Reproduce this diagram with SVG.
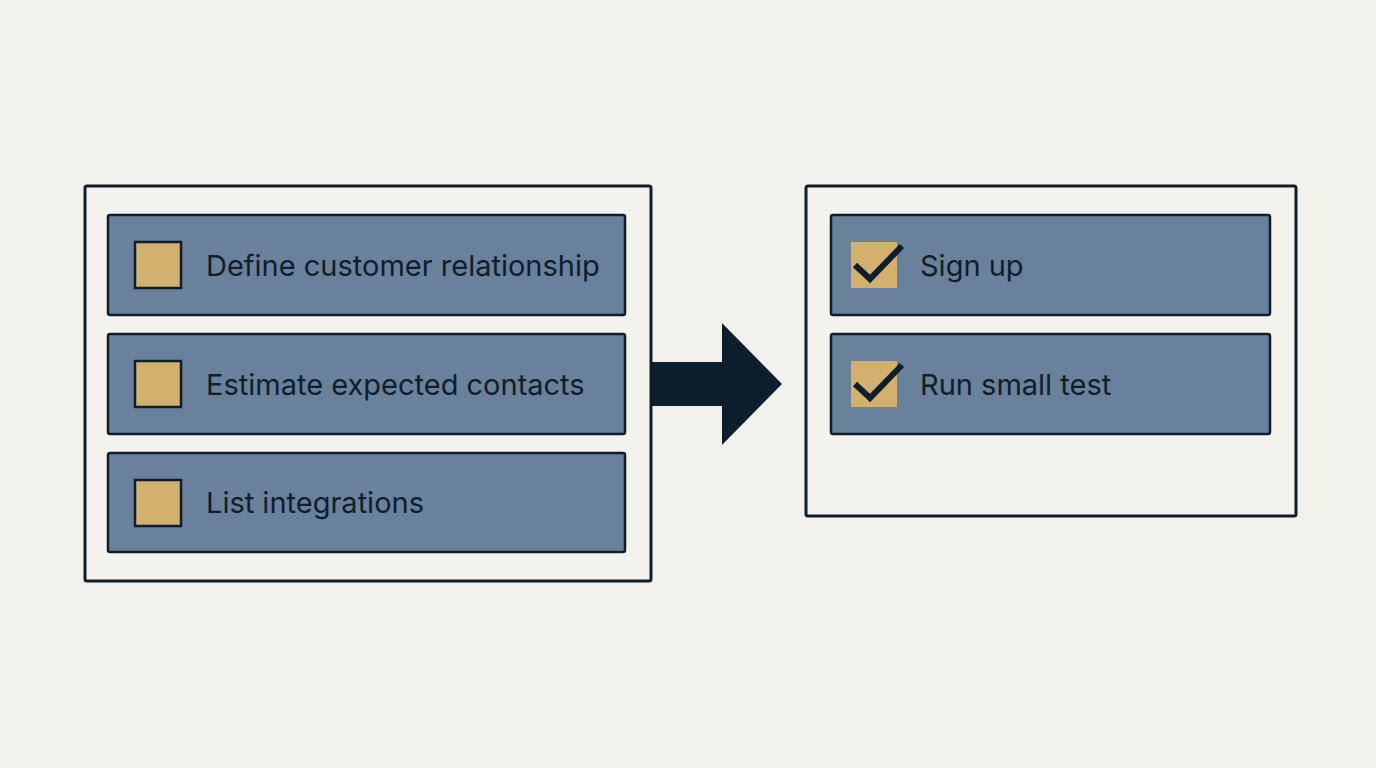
<svg xmlns="http://www.w3.org/2000/svg" width="1376" height="768" viewBox="0 0 1376 768">
<style>
.bg{fill:#f2f0eb}
.panel{fill:#f4f2ed;stroke:#0f1e2d;stroke-width:3}
.item{fill:#6a819b;stroke:#0f1e2d;stroke-width:2.5}
.box{fill:#d2b16f;stroke:#0f1e2d;stroke-width:2.5}
.boxc{fill:#d2b16f}
.chk{fill:none;stroke:#0f1e2d;stroke-width:6;stroke-linecap:butt;stroke-linejoin:miter}
.lbl{font-family:Inter,"Noto Sans","Liberation Sans",sans-serif;font-size:29px;fill:#0f1e2d}
</style>
<rect class="bg" x="0" y="0" width="1376" height="768"/>
<g id="left-panel">
<rect class="panel" x="85" y="186" width="566" height="395" rx="2"/>
</g>
<g id="item-define">
<rect class="item" x="108" y="215" width="517" height="100" rx="2"/>
<rect class="box" x="135" y="242" width="46" height="46"/>
<text class="lbl" x="206" y="276">Define customer relationship</text>
</g>
<g id="item-estimate">
<rect class="item" x="108" y="334" width="517" height="100" rx="2"/>
<rect class="box" x="135" y="361" width="46" height="46"/>
<text class="lbl" x="206" y="395">Estimate expected contacts</text>
</g>
<g id="item-list">
<rect class="item" x="108" y="453" width="517" height="99" rx="2"/>
<rect class="box" x="135" y="480" width="46" height="46"/>
<text class="lbl" x="206" y="513">List integrations</text>
</g>
<g id="connectors">
<polygon fill="#0f1e2d" points="651,362 722,362 722,323 782,384 722,445 722,406 651,406"/>
</g>
<g id="right-panel">
<rect class="panel" x="806" y="186" width="490" height="330" rx="2"/>
</g>
<g id="item-signup">
<rect class="item" x="831" y="215" width="439" height="100" rx="2"/>
<rect class="boxc" x="851" y="242" width="46" height="46"/>
<polyline class="chk" points="855,265 870,279 902,246"/>
<text class="lbl" x="920" y="276">Sign up</text>
</g>
<g id="item-test">
<rect class="item" x="831" y="334" width="439" height="100" rx="2"/>
<rect class="boxc" x="851" y="361" width="46" height="46"/>
<polyline class="chk" points="855,384 870,398 902,365"/>
<text class="lbl" x="920" y="395">Run small test</text>
</g>
</svg>
